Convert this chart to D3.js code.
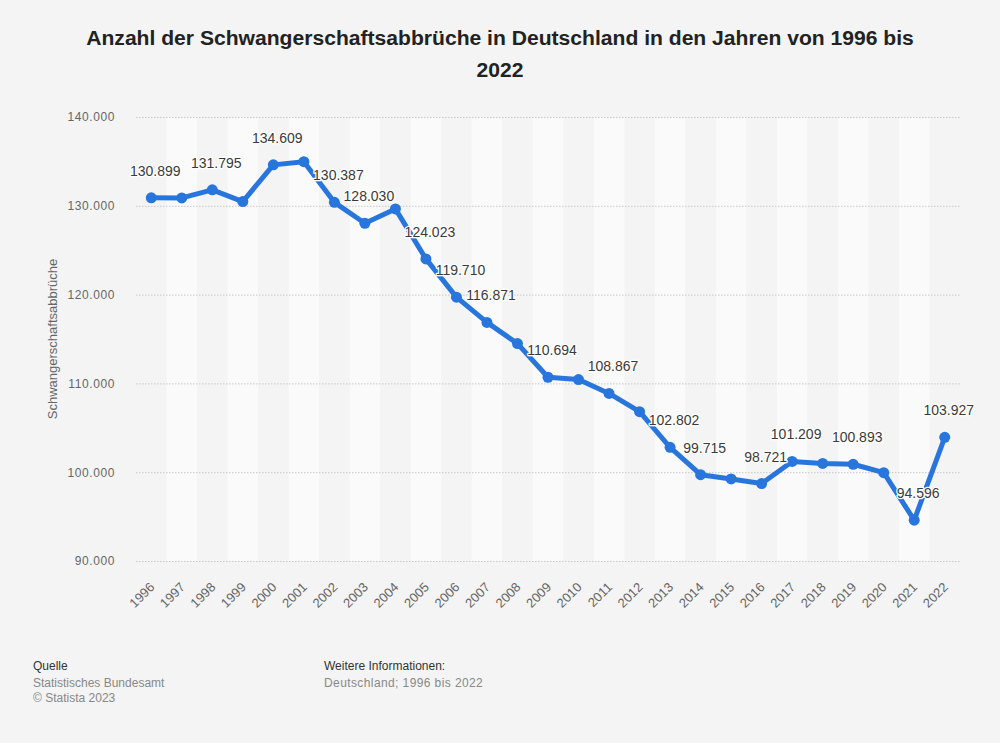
<!DOCTYPE html>
<html><head><meta charset="utf-8">
<script src="https://cdn.jsdelivr.net/npm/d3@7"></script>
<style>
html,body{margin:0;padding:0;background:#f4f4f4;}
svg{display:block;font-family:"Liberation Sans",Arial,sans-serif;}
</style></head>
<body>
<svg id="chart" width="1000" height="743"></svg>
<script>
const years = [1996,1997,1998,1999,2000,2001,2002,2003,2004,2005,2006,2007,2008,2009,2010,2011,2012,2013,2014,2015,2016,2017,2018,2019,2020,2021,2022];
const values = [130899,130890,131795,130471,134609,134964,130387,128030,129650,124023,119710,116871,114484,110694,110431,108867,106815,102802,99715,99237,98721,101209,100986,100893,99948,94596,103927];
const labeledYears = [1996,1998,2000,2002,2003,2005,2006,2007,2009,2011,2013,2014,2016,2017,2019,2021,2022];
const yTicks = [90000,100000,110000,120000,130000,140000];
const titleLines = ["Anzahl der Schwangerschaftsabbrüche in Deutschland in den Jahren von 1996 bis","2022"];
const yAxisTitle = "Schwangerschaftsabbrüche";

(function(){
const svg = d3.select("#chart");
const pL = 136, pR = 960, pT = 117, pB = 561;

const fmt = v => d3.format(",")(v).replace(/,/g, ".");

const x = d3.scaleBand().domain(years).range([pL, pR]).padding(0);
const y = d3.scaleLinear().domain([90000, 140000]).range([pB, pT]);

// title
svg.append("g").selectAll("text").data(titleLines).join("text")
  .attr("x", 500).attr("y", (d,i) => 45 + i*32)
  .attr("text-anchor", "middle").attr("font-size", 21.1).attr("font-weight", "bold").attr("fill", "#222")
  .text(d => d);

// stripes
svg.append("g").selectAll("rect").data(years.filter((d,i) => i % 2 === 1)).join("rect")
  .attr("x", d => x(d)).attr("y", pT).attr("width", x.bandwidth()).attr("height", pB - pT)
  .attr("fill", "#fafafa");

// gridlines
const yAxis = d3.axisLeft(y).tickValues(yTicks).tickSize(-(pR - pL)).tickFormat(fmt).tickPadding(21);
const gy = svg.append("g").attr("transform", `translate(${pL},0)`).call(yAxis);
gy.select(".domain").remove();
gy.selectAll(".tick line").attr("stroke", "#c8c8c8").attr("stroke-dasharray", "1.5,1.5");
gy.selectAll(".tick text").attr("fill", "#666").attr("font-size", 12).attr("letter-spacing", "0.6px")
  .attr("font-family", "'Liberation Sans',Arial,sans-serif");

// x axis
const xAxis = d3.axisBottom(x).tickSize(0).tickFormat(d => d);
const gx = svg.append("g").attr("transform", `translate(0,${pB})`).call(xAxis);
gx.select(".domain").remove();
gx.selectAll(".tick text")
  .attr("fill", "#666").attr("font-size", 13)
  .attr("font-family", "'Liberation Sans',Arial,sans-serif")
  .attr("text-anchor", "end")
  .attr("dy", null).attr("y", null)
  .attr("transform", "translate(4,27) rotate(-45)");

// y axis title
svg.append("text")
  .attr("transform", `translate(57,${(pT+pB)/2}) rotate(-90)`)
  .attr("text-anchor", "middle").attr("font-size", 13).attr("fill", "#666")
  .text(yAxisTitle);

// line
const cx = d => x(d) + x.bandwidth()/2;
const data = years.map((yr, i) => ({year: yr, value: values[i]}));
svg.append("path").datum(data)
  .attr("fill", "none").attr("stroke", "#2876dd").attr("stroke-width", 5).attr("stroke-linejoin", "round")
  .attr("d", d3.line().x(d => cx(d.year)).y(d => y(d.value)));
svg.append("g").selectAll("circle").data(data).join("circle")
  .attr("cx", d => cx(d.year)).attr("cy", d => y(d.value)).attr("r", 5.5).attr("fill", "#2876dd");

// labels
const lab = data.filter(d => labeledYears.includes(d.year));
svg.append("g").selectAll("text").data(lab).join("text")
  .attr("x", d => cx(d.year) + 4).attr("y", d => y(d.value) - 22)
  .attr("text-anchor", "middle").attr("font-size", 14).attr("fill", "#3a3a3a")
  .attr("stroke", "#fff").attr("stroke-width", 2.5).attr("paint-order", "stroke").attr("stroke-linejoin", "round")
  .text(d => fmt(d.value));

// footer
const foot = svg.append("g").attr("font-size", 12);
foot.append("text").attr("x", 33).attr("y", 670).attr("fill", "#333").text("Quelle");
foot.append("text").attr("x", 33).attr("y", 687).attr("fill", "#888").text("Statistisches Bundesamt");
foot.append("text").attr("x", 33).attr("y", 702).attr("fill", "#888").text("© Statista 2023");
foot.append("text").attr("x", 324).attr("y", 670).attr("fill", "#333").text("Weitere Informationen:");
foot.append("text").attr("x", 324).attr("y", 687).attr("fill", "#888").attr("letter-spacing", "0.4px").text("Deutschland; 1996 bis 2022");
})();
</script>
</body></html>
